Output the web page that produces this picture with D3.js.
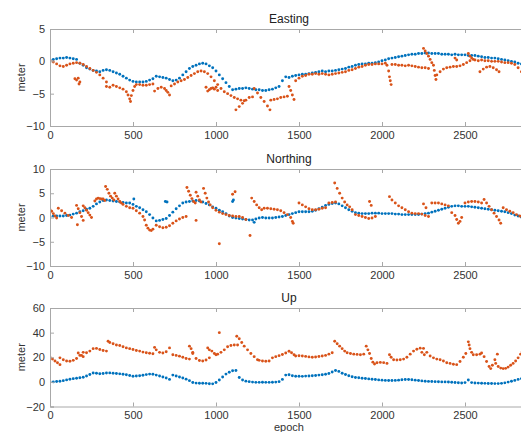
<!DOCTYPE html>
<html>
<head>
<meta charset="utf-8">
<title>Easting / Northing / Up</title>
<style>
  body { margin: 0; background: #fff; }
  svg { display: block; font-family: "Liberation Sans", Arial, sans-serif; }
  .axis path, .axis line { stroke: #a8a8a8; }
  .axis text { fill: #333; font-size: 11px; }
  .title { fill: #222; font-size: 12px; }
  .label { fill: #333; font-size: 11px; }
</style>
</head>
<body>
<svg id="chart" width="521" height="432"></svg>
<script src="https://d3js.org/d3.v7.min.js"></script>
<script>
// epochs on the x axis, blue series sampled every 20 epochs from 0
var xTicks = [0, 500, 1000, 1500, 2000, 2500];
var eastTicks = [-10, -5, 0, 5];
var northTicks = [-10, -5, 0, 5, 10];
var upTicks = [-20, 0, 20, 40, 60];
var blueStep = 20;

var eastBlue = [0.2,0.3,0.4,0.5,0.5,0.6,0.5,0.4,0.3,-0.3,-0.6,-1.0,-1.2,-1.4,-1.5,-1.6,-1.4,-1.3,-1.4,-1.6,
  -1.8,-2.0,-2.3,-2.6,-2.9,-3.1,-3.2,-3.2,-3.2,-3.1,-2.9,-2.7,-2.3,-2.4,-2.5,-2.6,-2.8,-3.0,-2.9,-2.6,
  -2.1,-1.6,-1.1,-0.8,-0.6,-0.4,-0.3,-0.4,-0.7,-1.0,-1.5,-2.1,-2.7,-3.3,-3.9,-4.4,-4.3,-4.2,-4.2,-4.1,
  -4.2,-4.3,-4.4,-4.4,-4.5,-4.5,-4.4,-4.3,-4.1,-3.9,-3.0,-2.4,-2.5,-2.3,-2.2,-2.1,-2.0,-2.0,-1.9,-1.8,
  -1.7,-1.6,-1.5,-1.6,-1.5,-1.5,-1.4,-1.3,-1.2,-1.1,-0.9,-0.8,-0.6,-0.5,-0.4,-0.4,-0.3,-0.3,-0.2,-0.1,
  0.1,0.2,0.4,0.5,0.6,0.7,0.8,0.9,1.0,1.1,1.1,1.2,1.2,1.3,1.3,1.2,1.2,1.2,1.1,1.1,
  1.1,1.0,1.1,1.0,1.0,1.0,0.9,0.9,0.9,0.8,0.7,0.6,0.6,0.5,0.5,0.4,0.3,0.2,0.1,0.0,
  -0.1,-0.3,-0.4];

var eastRed = [
  [0,0.1],[20,-0.1],[40,-0.4],[60,-0.7],[80,-0.8],[100,-0.6],[120,-0.4],[140,-0.3],[160,-0.2],[180,-0.3],
  [200,-0.5],[220,-0.8],[240,-1.1],[260,-1.4],[280,-1.7],[300,-2.1],[320,-2.6],[340,-3.2],
  [150,-2.7],[160,-2.9],[170,-2.6],[180,-3.2],[175,-3.5],
  [340,-3.9],[360,-4.0],[380,-3.7],[400,-3.9],[420,-4.1],[440,-4.3],[460,-4.7],[470,-5.2],[480,-5.8],[485,-6.2],
  [490,-5.3],[500,-4.5],[510,-3.9],[520,-3.6],[540,-3.6],[560,-3.7],[580,-3.7],[600,-3.6],[620,-3.5],
  [630,-4.6],[650,-4.2],[670,-4.0],[690,-4.2],[700,-4.5],[710,-4.8],[720,-5.2],
  [730,-3.8],[750,-3.5],[770,-3.2],[790,-3.0],[810,-2.8],[830,-2.5],[850,-2.2],[870,-1.9],[890,-1.6],[910,-1.5],
  [930,-1.6],[950,-1.9],[970,-2.4],[990,-3.0],[1010,-3.6],[1030,-4.2],[1050,-4.7],[1070,-5.0],[1090,-5.3],[1110,-5.6],
  [1130,-5.8],[1150,-6.0],[1170,-6.1],
  [940,-4.0],[950,-4.6],[960,-4.4],[970,-4.2],[980,-4.1],[990,-4.3],[1000,-4.0],[1010,-4.5],
  [1120,-7.5],[1140,-7.0],[1160,-6.5],[1180,-6.0],[1200,-5.6],[1220,-5.5],
  [1230,-4.2],[1250,-4.9],[1270,-5.6],[1290,-6.2],[1310,-6.9],[1325,-7.5],
  [1330,-6.0],[1350,-5.9],[1370,-5.8],[1390,-5.6],[1410,-5.5],[1430,-5.4],
  [1440,-3.9],[1450,-4.5],[1460,-5.2],[1470,-5.9],
  [1480,-3.0],[1500,-2.6],[1520,-2.3],[1540,-2.2],[1560,-2.0],[1580,-2.0],[1600,-1.9],[1620,-2.0],[1640,-1.9],[1660,-2.0],
  [1680,-2.1],[1700,-2.0],[1720,-1.9],[1740,-1.8],[1760,-1.7],[1780,-1.6],[1800,-1.4],[1820,-1.3],[1840,-1.1],[1860,-0.9],
  [1880,-0.8],[1900,-0.6],[1920,-0.5],[1940,-0.5],[1960,-0.4],[1980,-0.4],
  [2030,-0.6],[2040,-1.5],[2045,-2.4],[2050,-3.0],[2055,-3.6],
  [2000,-0.4],[2020,-0.3],[2060,-0.5],[2080,-0.5],[2100,-0.6],[2120,-0.6],[2140,-0.7],[2160,-0.6],[2180,-0.7],[2200,-0.8],
  [2220,-0.9],[2240,-1.0],[2260,-1.0],[2280,-1.1],
  [2250,2.0],[2260,1.6],[2270,1.2],[2280,0.8],[2290,0.3],[2300,-0.2],[2310,-0.6],[2315,-1.4],[2320,-2.2],[2325,-2.8],
  [2330,-2.1],[2350,-1.6],[2370,-1.2],[2390,-1.0],[2410,-0.9],[2430,-0.8],[2450,-0.8],[2470,-0.7],[2490,-0.5],[2510,-0.2],[2530,0.1],
  [2440,0.5],[2450,0.2],
  [2520,1.2],[2530,0.8],[2540,0.5],[2550,0.3],
  [2560,0.2],[2580,0.1],[2600,0.2],[2620,0.1],[2640,0.1],[2660,0.0],[2680,0.0],[2700,0.0],[2720,-0.1],[2740,-0.2],
  [2760,-0.2],[2780,-0.3],[2800,-0.5],[2820,-1.0],[2840,-1.6],
  [2590,-1.6],[2610,-1.2],[2630,-0.9],[2650,-0.8],[2670,-1.0],[2690,-1.3],[2705,-1.6]
];

var northBlue = [0.2,0.3,0.3,0.3,0.3,0.4,0.5,0.7,0.9,1.2,1.4,1.7,1.9,2.3,2.8,3.2,3.5,3.6,3.5,3.4,
  3.3,3.2,3.1,3.0,3.0,2.7,2.3,2.0,1.6,1.2,0.6,-0.1,-0.7,-0.6,-0.4,-0.2,0.4,1.1,1.8,2.4,
  3.0,3.2,3.3,3.4,3.5,3.4,3.2,2.9,2.6,2.2,1.9,1.5,1.2,0.8,0.3,0.0,-0.1,-0.2,-0.3,-0.4,
  -0.5,-0.5,-0.3,-0.1,0.0,-0.1,-0.1,-0.1,0.0,0.1,0.2,0.4,0.6,0.8,1.0,1.2,1.2,1.2,1.2,1.3,
  1.5,1.8,2.1,2.5,2.7,2.9,3.0,2.8,2.4,2.0,1.6,1.3,1.0,0.9,0.8,0.8,0.8,0.9,0.9,0.9,
  0.8,0.8,0.8,0.8,0.7,0.7,0.6,0.6,0.6,0.6,0.6,0.6,0.7,0.8,0.9,1.1,1.3,1.5,1.7,1.9,
  2.1,2.3,2.4,2.4,2.3,2.3,2.3,2.2,2.1,2.0,1.9,1.8,1.7,1.6,1.5,1.4,1.3,1.2,1.0,0.8,
  0.5,0.3,0.1];

var northBlueExtra = [[505,3.8],[695,3.3],[705,3.2],[1100,3.3],[1105,3.6],[1230,-1.0]];

var northRed = [
  [0,1.6],[10,1.3],[20,0.8],[30,0.3],[40,-0.1],
  [50,1.9],[70,1.4],[90,0.9],[110,0.4],[130,0.0],
  [160,2.5],[170,1.8],[180,1.0],[190,0.2],[200,-0.6],[165,-1.5],
  [200,2.4],[210,2.0],[220,1.5],[230,1.0],[240,0.5],[250,0.0],
  [270,3.4],[280,3.8],[290,4.0],[300,3.9],[310,3.8],[320,3.8],[330,3.5],
  [335,6.4],[345,5.8],[355,5.0],[365,4.4],[375,4.0],[385,3.6],
  [390,5.0],[400,4.4],[410,3.8],[420,3.3],[430,3.0],
  [440,2.7],[460,2.3],[480,2.0],[500,1.9],[520,1.4],[540,0.9],[560,0.2],[570,-0.5],[580,-1.6],[590,-2.2],[600,-2.6],[610,-2.7],[620,-2.4],
  [640,-1.6],[660,-1.9],[680,-2.1],[700,-2.0],[720,-1.7],[740,-1.2],[760,-0.7],[780,-0.3],[800,0.0],[820,0.2],
  [825,6.2],[835,5.4],[845,4.6],[855,3.9],[865,3.3],[875,3.0],
  [880,5.2],[890,4.4],[900,3.6],[910,3.2],
  [925,6.0],[935,5.0],[945,4.0],[955,3.2],[965,2.6],
  [980,2.0],[1000,1.5],[1020,1.1],[1040,0.8],[1060,0.6],[1080,0.4],[1100,0.3],[1120,0.2],[1140,0.2],[1160,0.0],[1180,-0.4],
  [1215,4.0],[1230,3.3],[1245,2.6],[1260,2.0],[1275,1.6],
  [1020,-5.4],[1100,4.8],[1115,5.3],[1205,-3.7],[880,-0.6],
  [1290,1.9],[1310,1.9],[1330,1.8],[1350,1.7],[1370,1.6],[1390,1.4],[1410,1.0],[1430,0.6],[1450,0.0],[1460,-0.8],[1465,-1.2],
  [1500,3.0],[1520,2.6],[1540,2.2],[1560,1.8],[1580,1.6],[1600,1.6],[1620,1.7],[1640,1.9],[1660,2.0],
  [1680,3.0],[1700,3.1],[1720,3.2],
  [1715,7.1],[1730,6.0],[1745,5.0],[1760,4.0],[1775,3.2],[1790,2.6],[1805,2.2],[1820,1.6],
  [1840,0.6],[1860,0.4],[1880,0.2],[1900,0.0],[1920,-0.2],[1940,-0.1],[1960,0.2],
  [1925,3.3],[1935,2.5],
  [2045,4.3],[2060,3.6],[2080,3.0],[2100,2.4],[2120,2.0],[2140,1.6],[2160,1.2],[2180,0.9],
  [2200,0.8],[2220,0.8],[2240,0.7],[2260,0.4],[2280,0.2],
  [2250,2.8],[2265,2.0],
  [2300,3.0],[2320,3.0],[2340,3.0],[2360,2.8],[2380,2.6],[2400,2.4],
  [2420,1.0],[2440,0.4],[2450,-0.4],[2460,-1.2],[2470,-0.8],[2480,0.0],
  [2500,3.0],[2520,3.2],[2540,3.3],[2560,3.3],[2580,3.2],[2600,3.0],
  [2615,3.7],[2630,3.0],[2645,2.3],[2660,1.6],[2675,0.9],[2690,0.2],[2705,-0.5],[2715,-1.2],
  [2730,2.0],[2750,1.6],[2770,1.3],[2790,1.0],[2810,0.6],[2830,0.3],[2845,0.0]
];

var upBlue = [0.0,0.0,0.3,0.5,1.0,1.6,2.1,2.6,3.0,3.4,3.8,4.8,6.0,7.2,7.0,6.6,6.8,7.2,7.3,7.0,
  6.8,6.5,6.2,5.8,5.2,4.6,4.8,5.0,5.4,5.9,6.3,6.2,5.5,4.8,4.0,3.2,2.0,5.5,4.8,4.0,
  3.2,2.2,1.0,-0.5,-1.0,-1.1,-1.1,-1.2,-1.5,-1.6,-0.5,1.5,4.0,6.3,7.8,9.0,9.2,3.5,1.5,0.6,
  0.2,-0.2,-0.4,-0.4,-0.3,-0.4,-0.4,-0.3,-0.2,0.2,2.0,5.5,5.8,5.0,4.6,4.6,4.5,4.7,4.8,5.0,
  5.2,5.5,5.8,6.2,6.8,8.0,9.2,8.5,7.0,6.0,5.0,4.2,3.6,3.3,3.0,2.7,2.4,2.1,1.9,1.6,
  1.4,1.2,1.1,1.1,1.2,1.4,1.7,1.9,1.9,1.7,1.4,1.1,0.8,0.5,0.4,0.3,0.2,0.1,0.0,0.0,
  -0.1,-0.3,-0.5,-0.7,-0.9,-0.6,1.5,-0.6,-0.9,-1.0,-1.1,-1.2,-1.3,-1.3,-1.4,-1.4,-1.2,-0.8,-0.2,0.5,
  1.2,2.0,2.7];

var upRed = [
  [0,20.0],[15,18.5],[30,17.0],[45,15.5],[60,14.0],
  [60,19.5],[80,18.0],[100,17.0],[120,16.8],[140,17.5],[160,19.0],[180,21.5],
  [170,23.5],[190,21.5],[200,20.5],
  [200,24.0],[220,23.6],[240,25.0],[260,27.0],[280,27.2],[300,26.3],[320,25.5],[340,25.0],
  [350,33.0],[360,32.0],[380,31.0],[400,30.0],[420,29.5],[440,28.5],[460,27.6],[480,27.0],[500,26.3],[520,25.5],
  [540,25.0],[560,24.2],[580,23.6],[600,23.2],[620,22.8],
  [630,28.0],[640,26.0],[660,24.0],[680,23.5],[700,24.5],[720,27.6],
  [740,22.0],[760,21.5],[780,20.9],[800,20.0],[820,19.0],[840,18.5],
  [840,29.0],[850,27.0],[860,24.0],
  [860,23.0],[880,19.0],[900,17.3],[920,17.0],[940,17.8],[960,19.5],
  [950,27.6],[960,26.0],[975,25.0],[990,23.0],[1000,22.0],[1010,22.5],
  [1020,40.0],
  [1030,24.0],[1050,26.0],[1070,28.5],[1090,29.5],[1110,30.0],[1130,30.0],
  [1125,37.0],[1140,35.0],[1155,32.0],[1170,29.0],[1190,26.0],[1210,23.0],[1230,20.5],[1250,18.0],
  [1260,17.5],[1280,17.0],[1300,16.8],[1320,17.0],[1340,19.5],[1360,20.5],[1380,21.3],[1400,22.2],[1420,23.4],[1440,24.9],
  [1455,23.6],[1470,22.0],
  [1480,21.0],[1500,21.2],[1520,21.0],[1540,20.7],[1560,20.3],[1580,20.0],[1600,20.2],[1620,20.6],[1640,21.0],[1660,21.5],
  [1680,22.5],[1700,23.6],
  [1715,33.0],[1730,31.0],[1745,29.0],[1760,27.0],[1775,25.0],[1790,23.6],[1810,23.0],[1830,22.5],[1850,22.3],[1870,22.0],[1890,22.5],
  [1905,29.0],[1915,26.0],[1925,23.0],[1935,19.0],[1945,16.0],[1955,14.5],
  [1970,15.5],[1990,15.8],[2010,15.6],[2030,15.0],
  [2045,22.0],[2055,20.0],[2070,18.0],[2090,17.8],[2110,18.0],[2130,18.5],[2150,20.0],[2170,22.5],[2190,25.0],[2210,26.5],
  [2230,27.4],[2250,27.2],[2270,24.0],
  [2240,24.0],[2255,22.0],
  [2290,21.0],[2310,19.5],[2330,18.5],[2350,18.0],[2370,17.0],[2390,15.5],[2410,15.0],[2430,14.3],[2450,14.0],[2470,16.5],
  [2490,20.0],[2505,23.0],
  [2520,32.5],[2525,30.0],[2530,27.0],[2540,24.0],
  [2550,22.0],[2570,22.0],[2590,22.5],
  [2600,23.5],[2615,20.5],[2630,16.5],[2645,12.5],[2655,10.8],[2665,13.5],[2680,18.0],[2695,22.5],
  [2685,15.0],[2700,12.5],[2715,11.2],[2730,10.8],[2745,11.0],[2760,12.0],[2775,13.5],[2790,15.0],[2805,17.0],
  [2820,19.5],[2835,22.5],[2845,24.5]
];

var blue = "#0072BD", orange = "#D95319";

function steps(vals) {
  return vals.map(function(v, i) { return [i * blueStep, v]; });
}

var panels = [
  { title: "Easting", top: 29, height: 97, domain: [-10, 5], ticks: eastTicks,
    series: [[steps(eastBlue), blue], [eastRed, orange]] },
  { title: "Northing", top: 169, height: 97, domain: [-10, 10], ticks: northTicks,
    series: [[steps(northBlue).concat(northBlueExtra), blue], [northRed, orange]] },
  { title: "Up", top: 308, height: 98.5, domain: [-20, 60], ticks: upTicks,
    series: [[upRed, orange], [steps(upBlue), blue]] }
];

var svg = d3.select("#chart");
var left = 50, pxPerEpoch = 0.166, xMax = 2900;

var x = d3.scaleLinear().domain([0, xMax]).range([left, left + xMax * pxPerEpoch]);

panels.forEach(function(p, k) {
  var y = d3.scaleLinear().domain(p.domain).range([p.top + p.height, p.top]);
  var g = svg.append("g");

  g.append("clipPath").attr("id", "clip" + k)
    .append("rect")
      .attr("x", x(0)).attr("y", p.top)
      .attr("width", x(xMax) - x(0)).attr("height", p.height);

  var dots = g.append("g").attr("clip-path", "url(#clip" + k + ")");
  p.series.forEach(function(s) {
    dots.selectAll(null)
      .data(s[0])
      .enter().append("circle")
        .attr("cx", d => x(d[0]))
        .attr("cy", d => y(d[1]))
        .attr("r", 1.45)
        .attr("fill", s[1]);
  });

  g.append("g").attr("class", "axis")
    .attr("transform", "translate(0," + (p.top + p.height) + ")")
    .call(d3.axisBottom(x).tickValues(xTicks).tickSize(-4).tickPadding(5).tickFormat(d3.format("d")));

  g.append("g").attr("class", "axis")
    .attr("transform", "translate(0," + p.top + ")")
    .call(d3.axisTop(x).tickValues(xTicks).tickSize(-4).tickFormat(""));

  g.append("g").attr("class", "axis")
    .attr("transform", "translate(" + left + ",0)")
    .call(d3.axisLeft(y).tickValues(p.ticks).tickSize(-4).tickPadding(5).tickFormat(d3.format("d")));

  g.selectAll(".axis .domain").attr("fill", "none");

  g.append("text").attr("class", "title")
    .attr("x", 289).attr("y", p.top - 6)
    .attr("text-anchor", "middle")
    .text(p.title);

  g.append("text").attr("class", "label")
    .attr("transform", "translate(25," + (p.top + p.height / 2) + ") rotate(-90)")
    .attr("text-anchor", "middle")
    .text("meter");
});

svg.append("text").attr("class", "label")
  .attr("x", 289).attr("y", 430.5)
  .attr("text-anchor", "middle")
  .text("epoch");
</script>
</body>
</html>
